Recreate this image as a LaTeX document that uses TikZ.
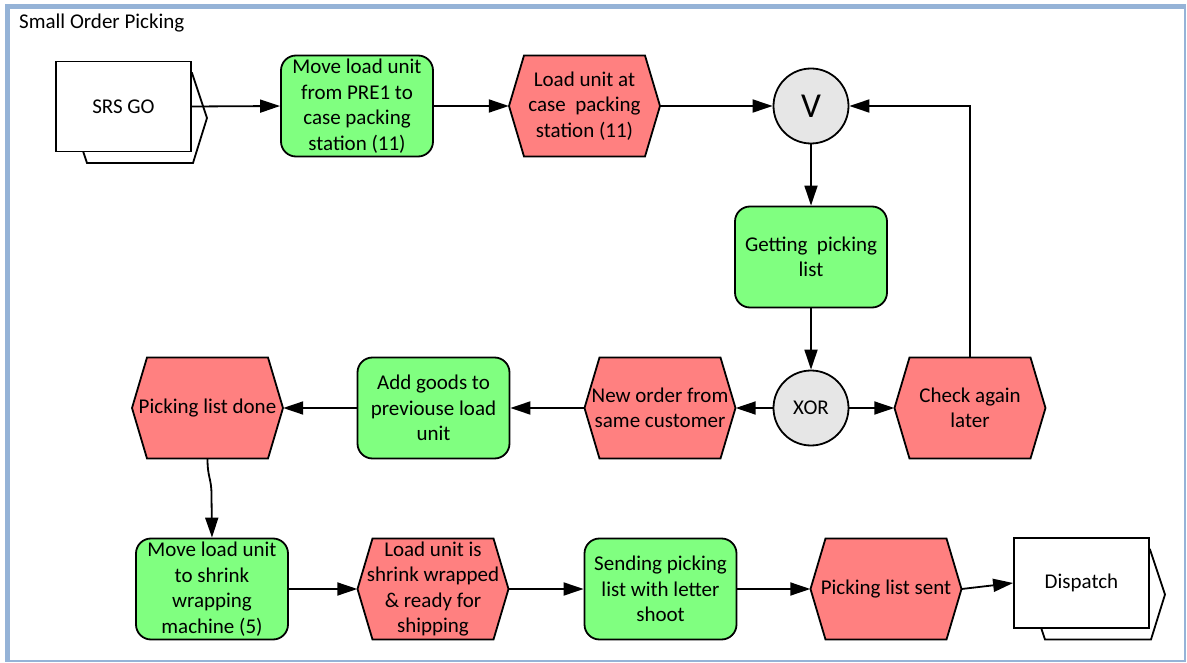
\documentclass[tikz,border=0pt]{standalone}
\usepackage{fontspec}
\setmainfont{Carlito}
\usetikzlibrary{arrows.meta,calc}
\definecolor{framecol}{HTML}{95B3D7}
\definecolor{actgreen}{HTML}{80FF80}
\definecolor{evtred}{HTML}{FF8080}
\definecolor{gategray}{HTML}{E6E6E6}

% event: hexagon drawn behind a text node of the same size
\newcommand\eventnode[4]{%
  \filldraw[evtshape] (#2-75.5,#3) -- (#2-60.5,#3-50.5) -- (#2+60.5,#3-50.5)
    -- (#2+75.5,#3) -- (#2+60.5,#3+50.5) -- (#2-60.5,#3+50.5) -- cycle;
  \node[evtlabel] (#1) at (#2,#3) {#4};}

% process interface: arrow-shaped sheet behind a white box
\newcommand\ifacenode[4]{%
  \filldraw[iback] (#2-36.5,#3-33.5) -- (#2+68.5,#3-33.5) -- (#2+83.5,#3+11.5)
    -- (#2+69.5,#3+56.5) -- (#2-36.5,#3+56.5) -- (#2-51.5,#3+11.5) -- cycle;
  \node[ifront] (#1) at (#2,#3) {#4};}

\begin{document}
\begin{tikzpicture}[x=1pt,y=-1pt,
  every node/.style={font=\fontsize{21}{25.5}\selectfont, align=center, inner sep=0pt},
  func/.style={draw, line width=1.8pt, fill=actgreen, rounded corners=15pt,
    minimum width=152pt, minimum height=101pt},
  evtlabel/.style={minimum width=151pt, minimum height=101pt},
  evtshape/.style={draw, line width=1.8pt, fill=evtred, line join=miter},
  gate/.style={circle, draw, line width=1.8pt, fill=gategray, minimum size=75pt},
  ifront/.style={draw, line width=1.8pt, fill=white, minimum width=135pt, minimum height=90pt},
  iback/.style={draw, line width=1.8pt, fill=white, line join=miter},
  flow/.style={line width=1.8pt, -{Triangle[length=20pt,width=13pt]}},
]
\useasboundingbox (0,0) rectangle (1187,663);

% frame
\fill[framecol] (5,4) rectangle (1186,662);
\fill[white] (10,9) rectangle (1184,660);
\node[anchor=base west] (title) at (19,29) {Small Order Picking};

% row 1
\ifacenode{srs}{123.5}{106.5}{SRS GO}
\node[func] (move1) at (357,106) {Move load unit\\from PRE1 to\\case packing\\station (11)};
\eventnode{load1}{584.5}{106}{Load unit at\\case\ \ packing\\station (11)}
\node[gate, font=\fontsize{35}{40}\selectfont] (orj) at (811,106) {V};

% row 2
\node[func] (getlist) at (811,257) {Getting\ \ picking\\list};
\node[gate] (xor) at (811,408) {XOR};
\eventnode{neworder}{660}{408}{New order from\\same customer}
\eventnode{check}{970}{408}{Check again\\later}
\node[func] (addgoods) at (433.5,408) {Add goods to\\previouse load\\unit};
\eventnode{pldone}{207.5}{408}{Picking list done}

% row 3
\node[func] (mlu) at (212,589) {Move load unit\\to shrink\\wrapping\\machine (5)};
\eventnode{wrapped}{433}{589}{Load unit is\\shrink wrapped\\\& ready for\\shipping}
\node[func] (sending) at (660.5,589) {Sending picking\\list with letter\\shoot};
\eventnode{plsent}{886}{589}{Picking list sent}
\ifacenode{dispatch}{1081.5}{583}{Dispatch}

% connectors
\draw[flow] (srs.east) -- (move1.west);
\draw[flow] (move1.east) -- (load1.west);
\draw[flow] (load1.east) -- (orj.west);
\draw[flow] (check.north) |- (orj.east);
\draw[flow] (orj.south) -- (getlist.north);
\draw[flow] (getlist.south) -- (xor.north);
\draw[flow] (xor.west) -- (neworder.east);
\draw[flow] (xor.east) -- (check.west);
\draw[flow] (neworder.west) -- (addgoods.east);
\draw[flow] (addgoods.west) -- (pldone.east);
\coordinate (bend) at (211.5,495);
\draw[flow] (pldone.south) .. controls (207.5,478) and (211.5,478) .. (bend) -- (mlu.north);
\draw[flow] (mlu.east) -- (wrapped.west);
\draw[flow] (wrapped.east) -- (sending.west);
\draw[flow] (sending.east) -- (plsent.west);
\draw[flow] (plsent.east) -- (dispatch.west);
\end{tikzpicture}
\end{document}
